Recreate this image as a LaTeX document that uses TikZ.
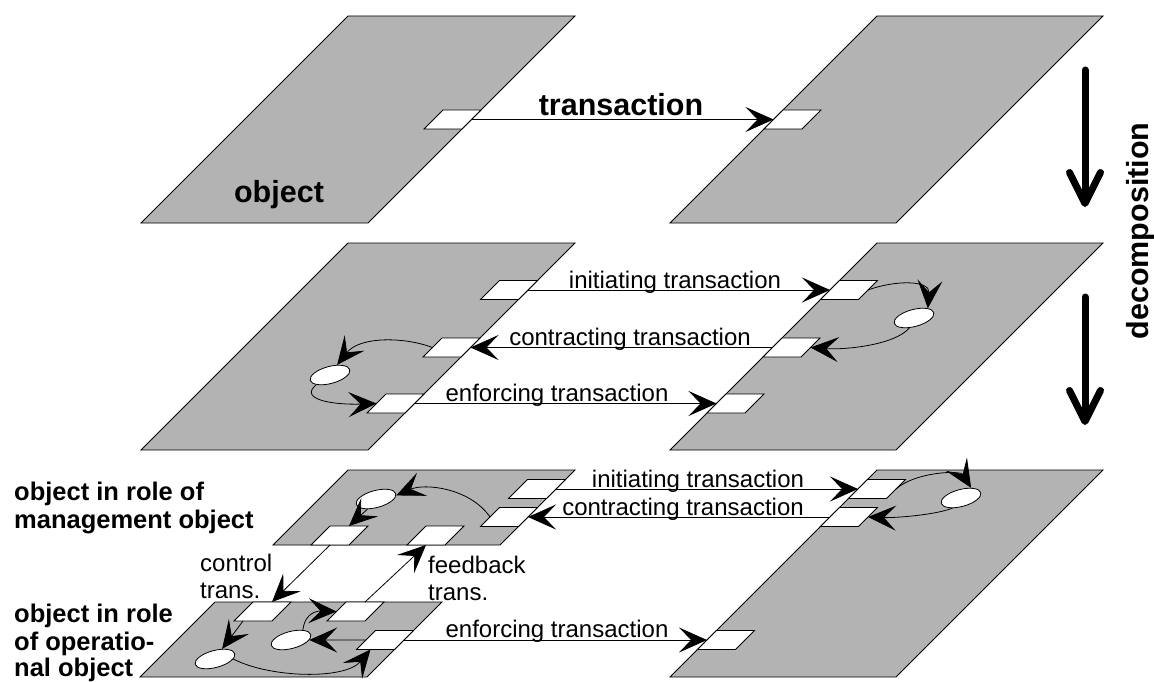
\documentclass[tikz,border=0pt]{standalone}
\usepackage{fontspec}
\setmainfont{Liberation Sans}
\usetikzlibrary{arrows.meta,shapes.geometric,calc}
\definecolor{planegray}{RGB}{179,179,179}

% object plane: name, top-left x, top y, width, height (45 degree slant)
\newcommand{\objplane}[5]{%
  \draw[plane] (#2,#3) -- ++(#4,0) -- ++(-#5,#5) -- ++(-#4,0) -- cycle;
  \coordinate (#1) at (#2,#3);}

% transaction port: name, centre x, centre y
\newcommand{\transport}[3]{%
  \draw[tbx] (#2-28.5,#3+9.5) -- ++(38,0) -- ++(19,-19) -- ++(-38,0) -- cycle;
  \coordinate (#1) at (#2,#3);
  \coordinate (#1-l) at (#2-19,#3);
  \coordinate (#1-r) at (#2+19,#3);
  \coordinate (#1-t) at (#2+9.5,#3-9.5);
  \coordinate (#1-b) at (#2-9.5,#3+9.5);}

\begin{document}
\begin{tikzpicture}[x=1pt,y=-1pt,
  plane/.style={draw=black, fill=planegray, line width=0.8pt},
  tbx/.style={draw=black, fill=white, line width=0.8pt},
  oval/.style={ellipse, draw=black, fill=white, line width=0.8pt,
    minimum width=41pt, minimum height=17pt, inner sep=0pt, rotate=15},
  conn/.style={line width=0.8pt, -{Stealth[length=28pt,width=25pt,inset=12pt]}},
  bigarrow/.style={line width=7pt, line cap=round,
    -{Straight Barb[length=31pt,width=31pt,round]}},
  blab/.style={font=\fontsize{30.5}{36}\selectfont\bfseries, inner sep=0pt},
  slab/.style={font=\fontsize{25.5}{28}\selectfont\bfseries, inner sep=0pt, anchor=base west},
  tlab/.style={font=\fontsize{24}{28}\selectfont, inner sep=0pt, anchor=base},
]
\useasboundingbox (0,0) rectangle (1154,682);

% ---------- planes ----------
\objplane{p1l}{348}{16}{227}{207}
\objplane{p1r}{877}{16}{226}{207}
\objplane{p2l}{348}{243}{227}{207}
\objplane{p2r}{877}{243}{226}{207}
\objplane{p3m}{348}{470}{227}{75}
\objplane{p3o}{215}{602}{227}{75}
\objplane{p3r}{877}{470}{226}{207}

% ---------- ports ----------
\transport{tL}{452.5}{119.5}
\transport{tR}{792.5}{119.5}

\transport{miL}{509}{290}
\transport{miR}{849}{290}
\transport{mcL}{451.5}{347.5}
\transport{mcR}{791.5}{347.5}
\transport{meL}{395.5}{403.5}
\transport{meR}{735.5}{403.5}

\transport{biL}{537}{489}
\transport{biR}{877}{489}
\transport{bcL}{509}{517}
\transport{bcR}{849}{517}
\transport{bmL}{339.5}{535.5}
\transport{bmR}{435.5}{535.5}
\transport{oL}{262.5}{611.5}
\transport{oR}{355.5}{611.5}
\transport{beL}{385}{640}
\transport{beR}{726}{640}

% ---------- internal processes ----------
\node[oval] (eM1) at (330,375) {};
\node[oval] (eM2) at (914,318) {};
\node[oval] (eB1) at (376,499) {};
\node[oval] (eB2) at (961,498) {};
\node[oval] (eO1) at (215,659) {};
\node[oval] (eO2) at (291,640) {};

% ---------- transactions between objects ----------
\draw[conn] (tL-r) -- (tR-l);

\draw[conn] (miL-r) -- (miR-l);
\draw[conn] (mcR-l) -- (mcL-r);
\draw[conn] (meL-r) -- (meR-l);

\draw[conn] (biL-r) -- (biR-l);
\draw[conn] (bcR-l) -- (bcL-r);
\draw[conn] (beL-r) -- (beR-l);

% ---------- internal links, middle layer ----------
\draw[conn] (mcL-l) .. controls (405,337) and (360,336) .. (eM1.40);
\draw[conn] (eM1.200) .. controls (298,400) and (335,405) .. (meL-l);
\draw[conn] (miR-r) .. controls (895,280) and (930,280) .. (eM2.20);
\draw[conn] (eM2.230) .. controls (895,345) and (845,350) .. (mcR-r);

% ---------- internal links, bottom layer ----------
\draw[conn] (bcL-l) .. controls (470,488) and (425,483) .. (eB1.355);
\draw[conn] (eB1.215) -- (bmL-t);
\draw[conn] (biR-r) .. controls (915,472) and (960,470) .. (eB2.30);
\draw[conn] (eB2.215) .. controls (935,515) and (895,518) .. (bcR-r);

\draw[conn] (bmL-b) -- (oL-t);
\draw[conn] (oR-t) -- (bmR-b);

\draw[conn] ($(oL-b)+(-10,0)$) -- (eO1.40);
\draw[conn] (eO1.345) .. controls (270,678) and (345,680) .. ($(beL-b)+(-5,0)$);
\draw[conn] (beL-l) -- (eO2.345);
\draw[conn] (eO2.25) .. controls (305,612) and (318,611) .. (oR-l);

% ---------- decomposition arrows ----------
\coordinate (d1s) at (1085,70);
\coordinate (d1e) at (1085,207);
\coordinate (d2s) at (1085,297);
\coordinate (d2e) at (1085,425);
\draw[bigarrow] (d1s) -- (d1e);
\draw[bigarrow] (d2s) -- (d2e);

% ---------- labels ----------
\node[blab, anchor=base] (transLbl) at (621,116) {transaction};
\node[blab, anchor=base] (objLbl) at (279,202) {object};
\node[blab, anchor=base, rotate=90] (decoLbl) at (1148,231) {decomposition};

\node[tlab] (miLbl) at (675,288) {initiating transaction};
\node[tlab] (mcLbl) at (630,345) {contracting transaction};
\node[tlab] (meLbl) at (557,401) {enforcing transaction};

\node[tlab] (biLbl) at (698,487) {initiating transaction};
\node[tlab] (bcLbl) at (683,515) {contracting transaction};
\node[tlab] (beLbl) at (557,637) {enforcing transaction};

\node[slab] (mgmtA) at (14,500) {object in role of};
\node[slab] (mgmtB) at (14,528) {management object};
\node[slab] (opA) at (14,622) {object in role};
\node[slab] (opB) at (14,650) {of operatio-};
\node[slab] (opC) at (14,676) {nal object};

\node[tlab, anchor=base west] (ctlA) at (200,571) {control};
\node[tlab, anchor=base west] (ctlB) at (200,598) {trans.};
\node[tlab, anchor=base west] (fbA) at (428,573) {feedback};
\node[tlab, anchor=base west] (fbB) at (428,600) {trans.};
\end{tikzpicture}
\end{document}
